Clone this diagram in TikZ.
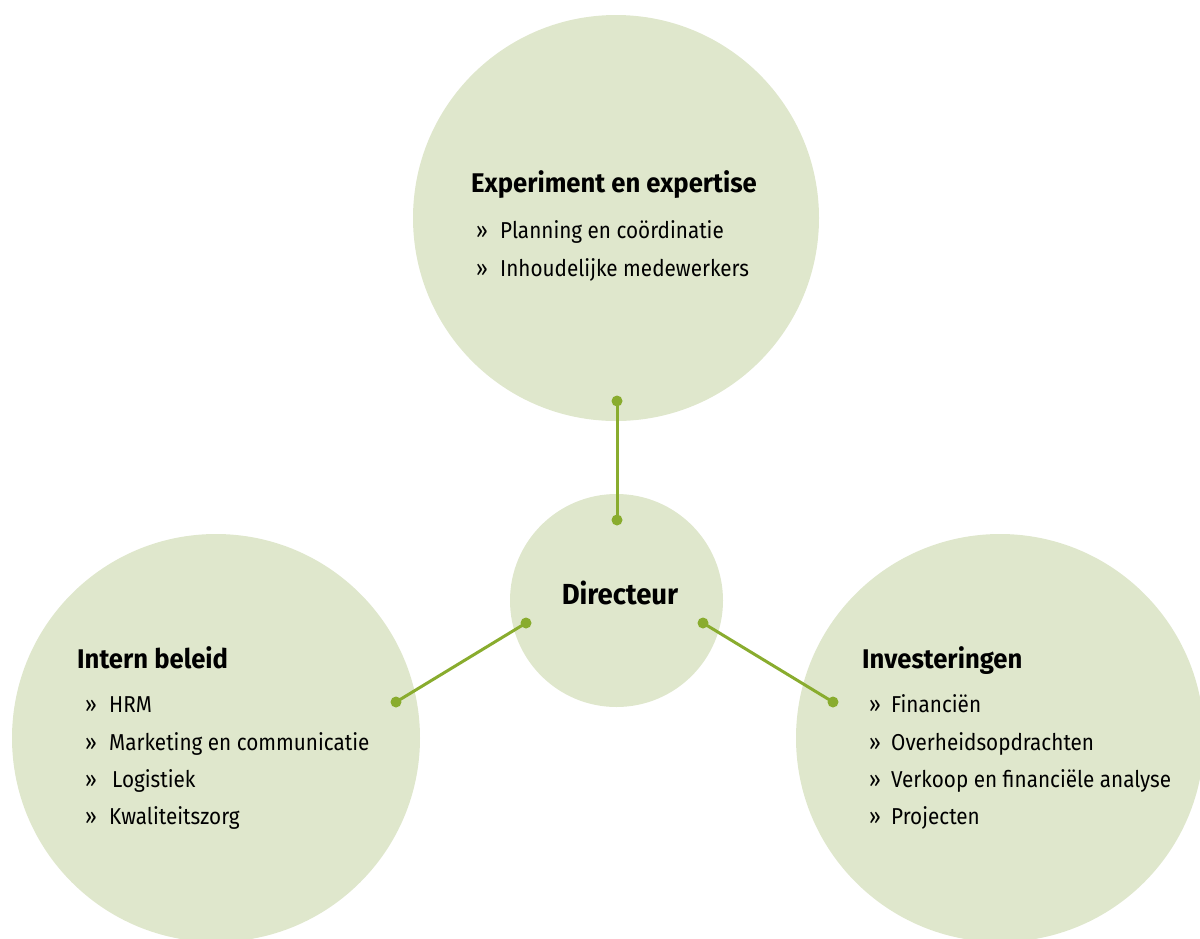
\documentclass[tikz,border=0pt]{standalone}
\usepackage{fontspec}
\setmainfont{Fira Sans}[FakeStretch=0.9]
\newfontfamily\headfont{Fira Sans}[FakeStretch=0.95]
\definecolor{circfill}{RGB}{223,231,204}
\definecolor{linkgreen}{RGB}{137,172,46}
\newcommand\bulmark{\makebox[24pt][l]{»}}
\tikzset{
  unit/.style={circle, fill=circfill, draw=none, minimum size=#1, inner sep=0pt},
  unittitle/.style={anchor=base west, inner sep=0pt, font=\headfont\bfseries\fontsize{27}{27}\selectfont, text=black},
  unititem/.style={anchor=base west, inner sep=0pt, font=\fontsize{23}{23}\selectfont, text=black},
  dotnode/.style={circle, fill=linkgreen, minimum size=11pt, inner sep=0pt},
  link/.style={draw=linkgreen, line width=3pt}
}
\begin{document}
\begin{tikzpicture}[x=1pt,y=-1pt]
\useasboundingbox (0,0) rectangle (1200,938);
\begin{scope}
\clip (0,0) rectangle (1200,938);
\node[unit=406pt] (top) at (616,218) {};
\node[unit=213pt] (dir) at (616.5,600.5) {};
\node[unit=408pt] (left) at (216,738) {};
\node[unit=408pt] (right) at (1000,738) {};
\end{scope}

% dots
\node[dotnode] (d1) at (617,401) {};
\node[dotnode] (d2) at (617,520) {};
\node[dotnode] (d3) at (526,623) {};
\node[dotnode] (d4) at (396,702) {};
\node[dotnode] (d5) at (703,623) {};
\node[dotnode] (d6) at (833,702) {};
\draw[link] (d1.center) -- (d2.center);
\draw[link] (d3.center) -- (d4.center);
\draw[link] (d5.center) -- (d6.center);

% top
\node[unittitle] (t1) at (471,192) {Experiment en expertise};
\node[unititem] (t1a) at (476,238) {\bulmark Planning en coördinatie};
\node[unititem] (t1b) at (476,276) {\bulmark Inhoudelijke medewerkers};

% centre
\node[unittitle, anchor=base, font=\headfont\bfseries\fontsize{29}{29}\selectfont] (dirlabel) at (620,604) {Directeur};

% left
\node[unittitle] (t2) at (77,668) {Intern beleid};
\node[unititem] (t2a) at (85,712) {\bulmark HRM};
\node[unititem] (t2b) at (85,750) {\bulmark Marketing en communicatie};
\node[unititem] (t2c) at (85,787) {\makebox[27pt][l]{»}Logistiek};
\node[unititem] (t2d) at (85,824) {\bulmark Kwaliteitszorg};

% right
\node[unittitle] (t3) at (862,668) {Investeringen};
\node[unititem] (t3a) at (869,712) {\makebox[22pt][l]{»}Financiën};
\node[unititem] (t3b) at (869,750) {\makebox[22pt][l]{»}Overheidsopdrachten};
\node[unititem] (t3c) at (869,787) {\makebox[22pt][l]{»}Verkoop en financiële analyse};
\node[unititem] (t3d) at (869,824) {\makebox[22pt][l]{»}Projecten};
\end{tikzpicture}
\end{document}
